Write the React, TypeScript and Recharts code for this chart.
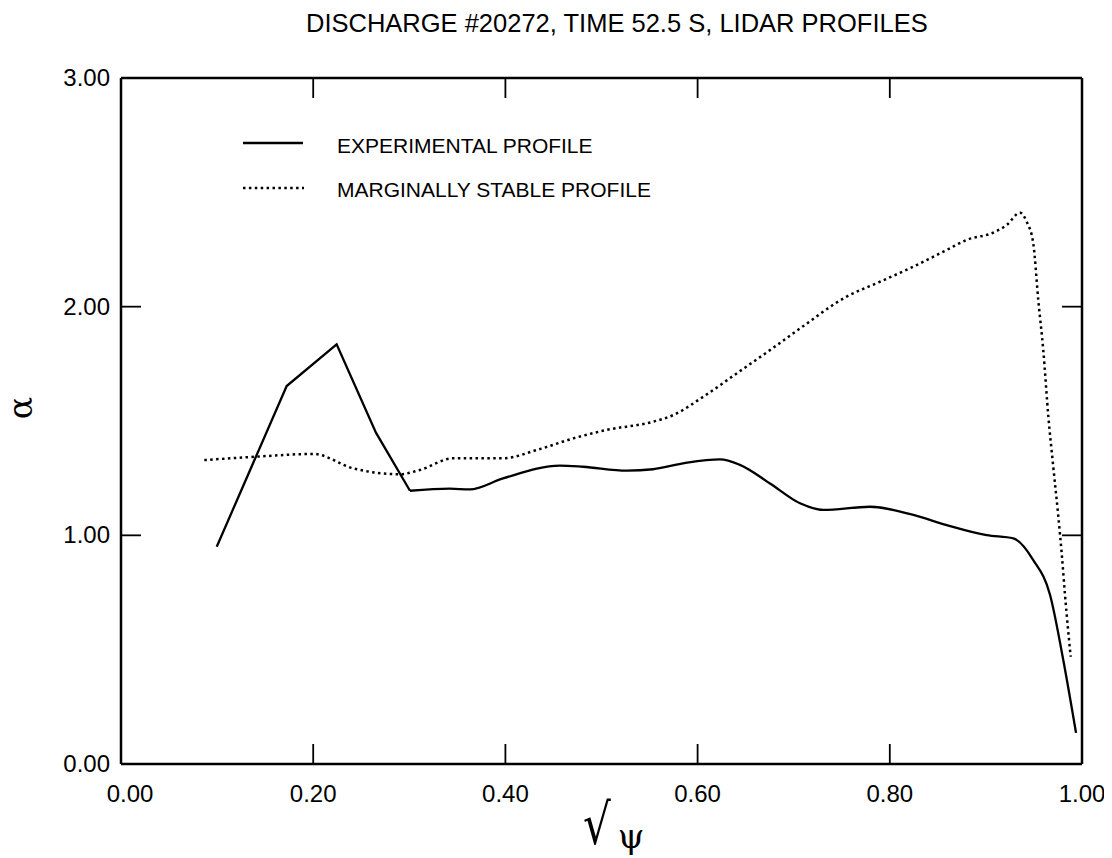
import React from 'react';
import { LineChart, Line, XAxis, YAxis } from 'recharts';

// Experimental alpha profile: piecewise-linear core, smooth outer part
const expCoreX = [0.0996, 0.1724, 0.2244, 0.2653, 0.3007];
const expCoreY = [0.95, 1.653, 1.835, 1.449, 1.195];
const expEdgeX = [
  0.3007, 0.342, 0.363, 0.3975, 0.4568, 0.4808, 0.5265, 0.5536, 0.589, 0.6233,
  0.644, 0.6753, 0.7066, 0.7308, 0.7794, 0.8245, 0.8592, 0.9008, 0.9285, 0.9493,
  0.9667, 0.9805, 0.9938,
];
const expEdgeY = [
  1.195, 1.204, 1.201, 1.249, 1.305, 1.3, 1.283, 1.289, 1.318, 1.332,
  1.308, 1.227, 1.14, 1.111, 1.125, 1.089, 1.045, 1.001, 0.987, 0.892,
  0.74, 0.455, 0.136,
];

// Marginally stable alpha profile
const msX = [
  0.0867, 0.141, 0.2, 0.2417, 0.2903, 0.311, 0.3458, 0.3978, 0.4325, 0.4707,
  0.5054, 0.5539, 0.5747, 0.6059, 0.6406, 0.6753, 0.7066, 0.7551, 0.7898, 0.8245,
  0.8592, 0.88, 0.9077, 0.9216, 0.9355, 0.9424, 0.9493, 0.9545, 0.9597, 0.965,
  0.9701, 0.9754, 0.9789, 0.9823, 0.9882,
];
const msY = [
  1.329, 1.344, 1.356, 1.293, 1.267, 1.286, 1.337, 1.337, 1.373, 1.424,
  1.461, 1.497, 1.526, 1.606, 1.708, 1.81, 1.905, 2.044, 2.109, 2.175,
  2.248, 2.292, 2.324, 2.357, 2.411, 2.372, 2.277, 2.029, 1.81, 1.519,
  1.3, 1.081, 0.92, 0.74, 0.469,
];

const xTicks = [0, 0.2, 0.4, 0.6, 0.8, 1.0];
const yTicks = [0, 1, 2, 3];

const TITLE = 'DISCHARGE #20272, TIME 52.5 S, LIDAR PROFILES';
const LEGEND_EXP = 'EXPERIMENTAL PROFILE';
const LEGEND_MS = 'MARGINALLY STABLE PROFILE';

const zip = (xs: number[], ys: number[]) => xs.map((x, i) => ({ x, y: ys[i] }));
const expCore = zip(expCoreX, expCoreY);
const expEdge = zip(expEdgeX, expEdgeY);
const marginal = zip(msX, msY);

const SANS = '"Liberation Sans", Arial, Helvetica, sans-serif';
const SERIF = '"DejaVu Serif", "Liberation Serif", serif';
const TICK_LEN = 20;
const SOLID_W = 2.3;
const DOT_W = 2.5;
const DOT_DASH = '2.5 3.4';

const BottomTick = (props: any) => {
  const { x, y, payload } = props;
  const dx = payload.value === 0 ? 9 : 0;
  return (
    <g>
      <line x1={x} y1={y} x2={x} y2={y - TICK_LEN} stroke="#000" strokeWidth={1.8} />
      <text x={x + dx} y={y + 38} textAnchor="middle" fontSize={24} fontFamily={SANS} fill="#000">
        {payload.value.toFixed(2)}
      </text>
    </g>
  );
};

const TopTick = (props: any) => {
  const { x, y } = props;
  return <line x1={x} y1={y} x2={x} y2={y + TICK_LEN} stroke="#000" strokeWidth={1.8} />;
};

const LeftTick = (props: any) => {
  const { x, y, payload } = props;
  return (
    <g>
      <line x1={x} y1={y} x2={x + TICK_LEN} y2={y} stroke="#000" strokeWidth={1.8} />
      <text x={x - 11} y={y + 8} textAnchor="end" fontSize={24} fontFamily={SANS} fill="#000">
        {payload.value.toFixed(2)}
      </text>
    </g>
  );
};

const RightTick = (props: any) => {
  const { x, y } = props;
  return <line x1={x} y1={y} x2={x - TICK_LEN} y2={y} stroke="#000" strokeWidth={1.8} />;
};

const axisLine = { stroke: '#000', strokeWidth: 2.5 };

export default function App() {
  return (
    <div style={{ position: 'relative', width: 1104, height: 850, background: '#fff' }}>
      <LineChart
        width={1104}
        height={850}
        margin={{ top: 69, right: 29, bottom: 34, left: 33 }}
      >
        <XAxis
          xAxisId="b"
          dataKey="x"
          type="number"
          domain={[0, 1]}
          ticks={xTicks}
          orientation="bottom"
          height={60}
          tickSize={0}
          tickMargin={0}
          tickLine={false}
          axisLine={axisLine}
          tick={<BottomTick />}
          interval={0}
        />
        <XAxis
          xAxisId="t"
          dataKey="x"
          type="number"
          domain={[0, 1]}
          ticks={xTicks}
          orientation="top"
          height={1}
          tickSize={0}
          tickMargin={0}
          tickLine={false}
          axisLine={axisLine}
          tick={<TopTick />}
          interval={0}
        />
        <YAxis
          yAxisId="l"
          type="number"
          domain={[0, 3]}
          ticks={yTicks}
          orientation="left"
          width={80}
          tickSize={0}
          tickMargin={0}
          tickLine={false}
          axisLine={axisLine}
          tick={<LeftTick />}
          interval={0}
        />
        <YAxis
          yAxisId="r"
          type="number"
          domain={[0, 3]}
          ticks={yTicks}
          orientation="right"
          width={1}
          tickSize={0}
          tickMargin={0}
          tickLine={false}
          axisLine={axisLine}
          tick={<RightTick />}
          interval={0}
        />
        <Line
          data={expCore}
          xAxisId="b"
          yAxisId="l"
          dataKey="y"
          type="linear"
          stroke="#000"
          strokeWidth={SOLID_W}
          dot={false}
          isAnimationActive={false}
        />
        <Line
          data={expEdge}
          xAxisId="b"
          yAxisId="l"
          dataKey="y"
          type="monotoneX"
          stroke="#000"
          strokeWidth={SOLID_W}
          dot={false}
          isAnimationActive={false}
        />
        <Line
          data={marginal}
          xAxisId="t"
          yAxisId="r"
          dataKey="y"
          type="monotoneX"
          stroke="#000"
          strokeWidth={DOT_W}
          strokeDasharray={DOT_DASH}
          dot={false}
          isAnimationActive={false}
        />
      </LineChart>

      {/* title, legend and axis titles, in page coordinates */}
      <svg
        width={1112}
        height={858}
        style={{ position: 'absolute', left: -8, top: -8, pointerEvents: 'none', overflow: 'visible' }}
      >
        <text x={306} y={32} fontSize={25.5} fontFamily={SANS} fill="#000">
          {TITLE}
        </text>

        <line x1={243} y1={143} x2={303} y2={143} stroke="#000" strokeWidth={SOLID_W} />
        <text x={337} y={153} fontSize={21} fontFamily={SANS} fill="#000">
          {LEGEND_EXP}
        </text>
        <line
          x1={243}
          y1={188}
          x2={304}
          y2={188}
          stroke="#000"
          strokeWidth={DOT_W}
          strokeDasharray={DOT_DASH}
        />
        <text x={337} y={197} fontSize={21} fontFamily={SANS} fill="#000">
          {LEGEND_MS}
        </text>

        <text
          transform="translate(23,408) rotate(-90)"
          x={0}
          y={8.6}
          textAnchor="middle"
          fontSize={33}
          fontFamily={SERIF}
          fill="#000"
        >
          α
        </text>
        <text
          transform="translate(597,844) scale(0.78,1)"
          x={0}
          y={0}
          textAnchor="middle"
          fontSize={56}
          fontFamily={SERIF}
          fill="#000"
        >
          √
        </text>
        <text x={631} y={848} textAnchor="middle" fontSize={34} fontFamily={SERIF} fill="#000">
          ψ
        </text>
      </svg>
    </div>
  );
}
